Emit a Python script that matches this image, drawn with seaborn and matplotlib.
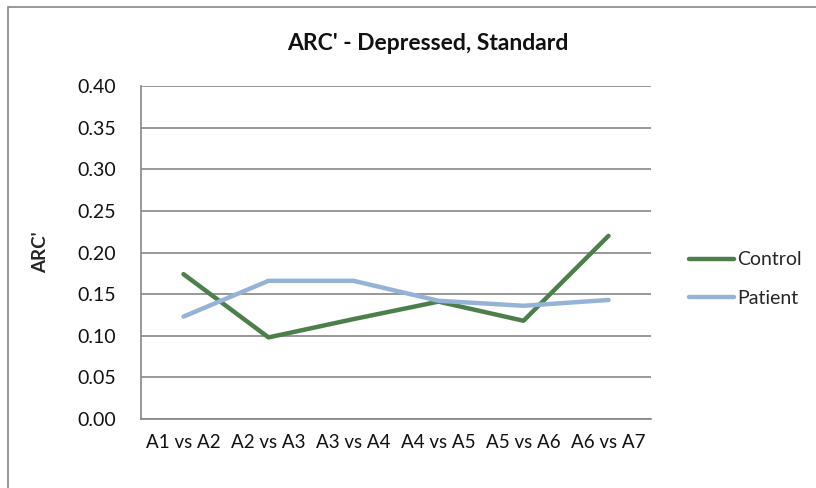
import matplotlib
matplotlib.use("Agg")
import matplotlib.pyplot as plt
import seaborn as sns
import pandas as pd
from matplotlib.patches import Rectangle

categories = ["A1 vs A2", "A2 vs A3", "A3 vs A4", "A4 vs A5", "A5 vs A6", "A6 vs A7"]
control = [0.174, 0.098, 0.120, 0.141, 0.118, 0.220]
patient = [0.123, 0.166, 0.166, 0.142, 0.136, 0.143]
series_names = ["Control", "Patient"]
yticks = [0.00, 0.05, 0.10, 0.15, 0.20, 0.25, 0.30, 0.35, 0.40]

sns.set_theme(style="white")
plt.rcParams["font.family"] = ["Lato", "DejaVu Sans"]

df = pd.DataFrame({
    "cat": categories * 2,
    "value": control + patient,
    "series": [series_names[0]] * len(categories) + [series_names[1]] * len(categories),
})
df["x"] = list(range(len(categories))) * 2

fig = plt.figure(figsize=(8.16, 4.88), dpi=100)
ax = fig.add_axes([141 / 816, 1 - 419 / 488, (651 - 141) / 816, (419 - 86) / 488])

palette = {"Control": "#4D7F4A", "Patient": "#95B3D7"}
sns.lineplot(data=df, x="x", y="value", hue="series", palette=palette,
             linewidth=3.2, ax=ax, legend=True, sort=False)

ax.set_xlim(-0.5, len(categories) - 0.5)
ax.set_ylim(0, 0.40)
ax.set_yticks(yticks)
ax.set_yticklabels([f"{v:.2f}" for v in yticks], fontsize=14, color="#111111")
ax.set_xticks(range(len(categories)))
ax.set_xticklabels(categories, fontsize=13.5, color="#111111")
ax.tick_params(axis="x", pad=11, length=0)
ax.tick_params(axis="y", pad=18, length=0)
ax.set_xlabel("")
ax.set_ylabel("ARC'", fontsize=13.5, fontweight="bold", labelpad=20)
ax.yaxis.grid(True, color="#868686", linewidth=1.2)
ax.set_axisbelow(True)
for s in ["top", "right"]:
    ax.spines[s].set_visible(False)
for s in ["left", "bottom"]:
    ax.spines[s].set_color("#868686")
    ax.spines[s].set_linewidth(1.2)

fig.text(428 / 816, 1 - 43 / 488, "ARC' - Depressed, Standard", ha="center", va="center",
         fontsize=16.5, fontweight="bold", color="#111111")

leg = ax.legend(loc="center left", bbox_to_anchor=(1.04, 0.42), frameon=False,
                fontsize=14, handlelength=2.3, labelspacing=1.1, handletextpad=0.2)
for line in leg.get_lines():
    line.set_linewidth(3.2)

fig.patches.append(Rectangle((8 / 816, -0.1), 1.2, 1 - 7 / 488 + 0.1, transform=fig.transFigure,
                             fill=False, edgecolor="#868686", linewidth=1.2))

fig.savefig("out.png", dpi=100)
